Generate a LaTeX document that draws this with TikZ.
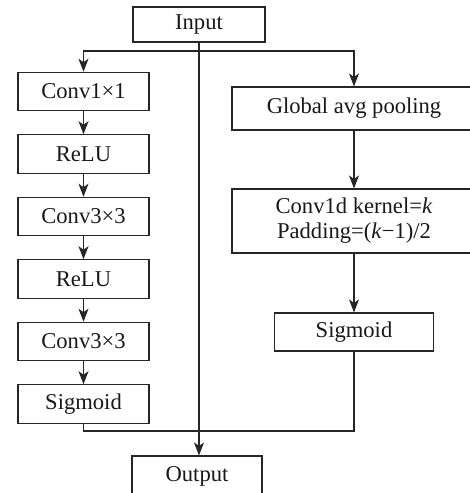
\documentclass[tikz,border=0pt]{standalone}
\usepackage{fontspec}
\setmainfont{Liberation Serif}
\usetikzlibrary{arrows.meta,calc}
\tikzset{
  blk/.style={draw=black!85, line width=1.1pt, fill=white, inner sep=0pt, align=center, font=\fontsize{22.6}{25}\selectfont, text=black!90},
  lnk/.style={draw=black!85, line width=1.1pt},
  arr/.style={lnk, -{Stealth[length=13pt,width=10pt,inset=3.5pt]}}
}
\begin{document}
\begin{tikzpicture}[x=1pt,y=-1pt]
\clip (0,0) rectangle (470,493);
\useasboundingbox (0,0) rectangle (470,493);
% nodes
\node[blk, minimum width=132pt, minimum height=35pt] (in) at (199,24.5) {Input};
\node[blk, minimum width=131pt, minimum height=38.5pt] (l1) at (83.5,91.5) {Conv1×1};
\node[blk, minimum width=131pt, minimum height=38.5pt] (l2) at (83.5,154) {ReLU};
\node[blk, minimum width=131pt, minimum height=38.5pt] (l3) at (83.5,216.5) {Conv3×3};
\node[blk, minimum width=131pt, minimum height=38.5pt] (l4) at (83.5,279) {ReLU};
\node[blk, minimum width=131pt, minimum height=38.5pt] (l5) at (83.5,341.5) {Conv3×3};
\node[blk, minimum width=131pt, minimum height=38.5pt] (l6) at (83.5,404) {Sigmoid};
\node[blk, minimum width=244pt, minimum height=43pt] (g) at (354,108.5) {Global avg pooling};
\node[blk, minimum width=244pt, minimum height=64pt] (c) at (354,221) {Conv1d kernel=\textit{k}\\Padding=(\textit{k}−1)/2};
\node[blk, minimum width=159pt, minimum height=38pt] (s) at (354,332) {Sigmoid};
\node[blk, minimum width=130pt, minimum height=40pt] (out) at (197,476) {Output};
\coordinate (j) at (199,51);
\coordinate (r) at (0,431);
% connectors
\draw[arr] (in.south) -- (in.south |- out.north);
\draw[arr] (j) -| (l1.north);
\draw[arr] (j) -| (g.north);
\draw[arr] (l1) -- (l2);
\draw[arr] (l2) -- (l3);
\draw[arr] (l3) -- (l4);
\draw[arr] (l4) -- (l5);
\draw[arr] (l5) -- (l6);
\draw[arr] (g) -- (c);
\draw[arr] (c) -- (s);
\draw[lnk] (l6.south) -- (l6.south |- r) -- (s.south |- r) -- (s.south);
\end{tikzpicture}
\end{document}
